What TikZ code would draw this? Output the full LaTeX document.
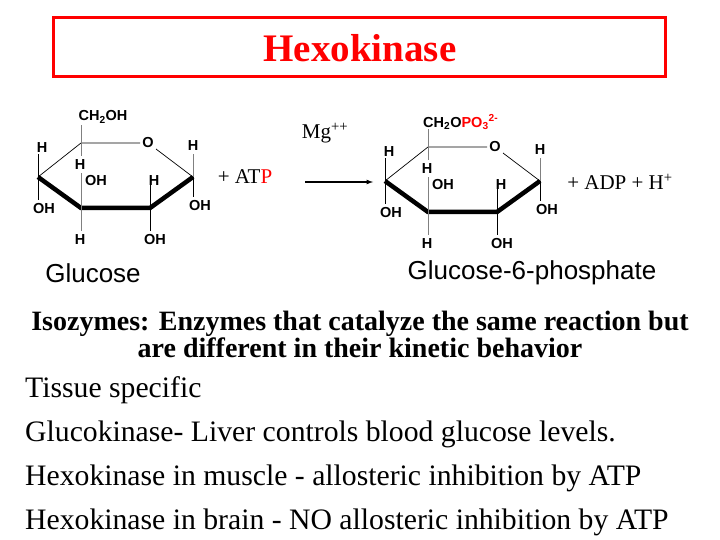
\documentclass[tikz,border=0pt]{standalone}
\usepackage{fontspec}
\setmainfont{Liberation Serif}
\newfontfamily\arial{Liberation Sans}
\begin{document}
\begin{tikzpicture}[x=1pt,y=-1pt,
  lab/.style={font=\arial\bfseries\fontsize{14.5}{15}\selectfont,inner sep=0pt},
  bond/.style={line width=0.7pt},
  wedge/.style={line width=4.5pt,line join=miter},
  gbond/.style={line width=0.7pt,gray},
  body/.style={font=\fontsize{29.7}{30}\selectfont,inner sep=0pt,anchor=west}]
\useasboundingbox (0,0) rectangle (720,540);
\node[draw=red,line width=2.5pt,minimum width=612pt,minimum height=59pt] (tb) at (359.5,47) {};
\node[text=red,font=\bfseries\fontsize{39}{40}\selectfont] (title) at (360,48) {Hexokinase};
\foreach \dx/\dy/\nm in {0/0/g,347/4/p}{
\begin{scope}[shift={(\dx,\dy)}]
\coordinate (\nm5) at (81,143); \coordinate (\nm O) at (148,143);
\coordinate (\nm1) at (193,177); \coordinate (\nm2) at (150,208);
\coordinate (\nm3) at (81,208); \coordinate (\nm4) at (38,177);
\draw[bond] (\nm4)--(\nm5)--(140,143);
\draw[bond] (156,149)--(\nm1);
\draw[wedge] (\nm4)--(\nm3)--(\nm2)--(\nm1);
\draw[bond] (\nm4)--(38,154); \draw[bond] (\nm4)--(38,200);
\draw[gbond] (\nm5)--(81,125); \draw[gbond] (\nm5)--(81,156);
\draw[gbond] (\nm3)--(81,173); \draw[gbond] (\nm3)--(81,231);
\draw[bond] (\nm2)--(150,175); \draw[bond] (\nm2)--(150,231);
\draw[gbond] (\nm1)--(193,154); \draw[bond] (\nm1)--(193,197);
\node[lab] (\nm Ol) at (148,143) {O};
\node[lab] (\nm a) at (42,148) {H};
\node[lab] (\nm b) at (80,165) {H};
\node[lab] (\nm c) at (96,181) {OH};
\node[lab] (\nm d) at (154,181) {H};
\node[lab] (\nm e) at (193,146) {H};
\node[lab] (\nm f) at (200,206) {OH};
\node[lab] (\nm g) at (44,209) {OH};
\node[lab] (\nm h) at (80,240) {H};
\node[lab] (\nm i) at (155,240) {OH};
\end{scope}}
\node[lab] (ch) at (103,117) {CH\textsubscript{2}OH};
\node[lab,anchor=west] (ch2) at (423,122) {CH\textsubscript{2}O\textcolor{red}{PO\textsubscript{3}\textsuperscript{2-}}};
\node[font=\fontsize{21}{22}\selectfont] (mg) at (325,133) {Mg\textsuperscript{++}};
\node[font=\fontsize{21}{22}\selectfont] (atp) at (245,177) {+ AT\textcolor{red}{P}};
\node[font=\fontsize{21}{22}\selectfont] (adp) at (620,182) {+ ADP + H\textsuperscript{+}};
\coordinate (a1) at (305,182); \coordinate (a2) at (373,182);
\draw[line width=1.2pt,-latex] (a1)--(a2);
\node[font=\arial\fontsize{26}{27}\selectfont] (glu) at (93,273) {Glucose};
\node[font=\arial\fontsize{26}{27}\selectfont] (g6p) at (532,273) {Glucose-6-phosphate};
\node[font=\bfseries\fontsize{28}{27}\selectfont,align=center] (iso) at (360,334) {Isozymes: Enzymes that catalyze the same reaction but\\are different in their kinetic behavior};
\node[body] (t1) at (25,390) {Tissue specific};
\node[body] (t2) at (25,434) {Glucokinase- Liver controls blood glucose levels.};
\node[body] (t3) at (25,478) {Hexokinase in muscle - allosteric inhibition by ATP};
\node[body] (t4) at (25,522) {Hexokinase in brain - NO allosteric inhibition by ATP};
\end{tikzpicture}
\end{document}
